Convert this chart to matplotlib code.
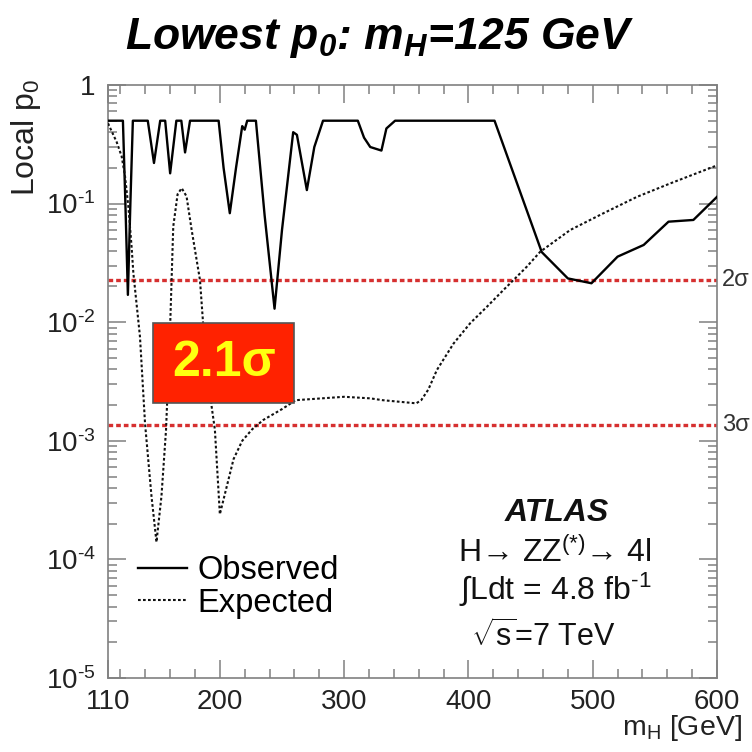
import matplotlib
matplotlib.use("Agg")
import matplotlib.pyplot as plt
from matplotlib.ticker import FixedLocator, MultipleLocator, LogLocator, NullFormatter, FixedFormatter
from matplotlib.patches import Rectangle
from matplotlib.lines import Line2D

plt.rcParams['font.family'] = ['Liberation Sans', 'DejaVu Sans']
plt.rcParams['mathtext.fontset'] = 'custom'
plt.rcParams['mathtext.rm'] = 'Liberation Sans'
plt.rcParams['mathtext.it'] = 'Liberation Sans:italic'
plt.rcParams['mathtext.bf'] = 'Liberation Sans:bold'
plt.rcParams['mathtext.bfit'] = 'Liberation Sans:bold:italic'
plt.rcParams['mathtext.default'] = 'regular'

# Observed local p0 vs Higgs mass
mh_obs = [110, 122, 124, 126, 128, 130, 142, 147, 152, 156, 160, 165, 169, 172, 176,
          199, 203, 208, 213, 218, 220, 222, 229, 236, 244, 250, 259, 262, 270, 276,
          283, 311, 316, 321, 330, 334, 341, 421, 459, 480, 499, 520, 541, 561, 581, 600]
p_obs = [0.5, 0.5, 0.1, 0.017, 0.1, 0.5, 0.5, 0.22, 0.5, 0.5, 0.18, 0.5, 0.5, 0.27, 0.5,
         0.5, 0.2, 0.083, 0.2, 0.45, 0.42, 0.5, 0.5, 0.08, 0.013, 0.06, 0.40, 0.38, 0.13, 0.3,
         0.5, 0.5, 0.36, 0.30, 0.28, 0.43, 0.5, 0.5, 0.039, 0.0234, 0.0213, 0.0357, 0.0448,
         0.0704, 0.0728, 0.114]

# Expected local p0 for a SM Higgs
mh_exp = [110, 117, 121, 123.7, 126.4, 129, 130.4, 135.7, 139.8, 145, 149, 153, 156.7,
          160, 162.5, 166, 169.3, 173.2, 177.3, 184, 186.7, 193.4, 196, 198.7, 200,
          205.5, 211, 218, 226, 235, 250, 261, 300, 321, 331, 358, 362, 367.7, 374.6,
          388, 401.4, 414.9, 428.2, 436.3, 447, 457.8, 481.9, 508.7, 535.6, 562.4, 600]
p_exp = [0.475, 0.33, 0.25, 0.17, 0.094, 0.043, 0.026, 0.0076, 0.0014, 3.4e-4, 1.4e-4,
         3.4e-4, 1.24e-3, 9.2e-3, 0.064, 0.12, 0.135, 0.115, 0.06, 0.0227, 0.0092,
         1.94e-3, 1.24e-3, 4.1e-4, 2.4e-4, 4.1e-4, 7.0e-4, 1.0e-3, 1.25e-3, 1.5e-3,
         1.85e-3, 2.2e-3, 2.35e-3, 2.28e-3, 2.2e-3, 2.07e-3, 2.2e-3, 2.7e-3, 3.95e-3,
         6.6e-3, 9.8e-3, 0.0135, 0.0187, 0.0227, 0.0294, 0.0393, 0.0599, 0.083, 0.114,
         0.148, 0.21]

sigma_levels = [0.02275, 0.00135]
sigma_labels = ["2σ", "3σ"]

x_major = [110, 200, 300, 400, 500, 600]
y_major = [1, 1e-1, 1e-2, 1e-3, 1e-4, 1e-5]
y_major_labels = ["1", "$10^{‐1}$", "$10^{‐2}$", "$10^{‐3}$", "$10^{‐4}$", "$10^{‐5}$"]

axis_grey = "#808080"
exp_style = (0, (1.3, 1.1))

fig = plt.figure(figsize=(7.52, 7.52), dpi=100)
ax = fig.add_axes([108 / 752, 1 - 678 / 752, 609 / 752, 593 / 752])

ax.set_yscale("log")
ax.set_xlim(110, 600)
ax.set_ylim(1e-5, 1)

for lvl in sigma_levels:
    ax.axhline(lvl, color="#d63030", lw=2.4, ls=(0, (1.4, 0.9)), zorder=1)

ax.plot(mh_obs, p_obs, color="black", lw=1.7, zorder=3)
ax.plot(mh_exp, p_exp, color="#111111", lw=1.5, ls=exp_style, zorder=3)

for lvl, lab in zip(sigma_levels, sigma_labels):
    ax.text(1.008, lvl, lab, transform=ax.get_yaxis_transform(), fontsize=17,
            color="#333333", ha="left", va="center", clip_on=False)

# axes style: ticks inside on all four sides
for s in ax.spines.values():
    s.set_color(axis_grey)
    s.set_linewidth(1.2)
ax.xaxis.set_major_locator(FixedLocator(x_major))
ax.xaxis.set_major_formatter(FixedFormatter([str(v) for v in x_major]))
ax.xaxis.set_minor_locator(MultipleLocator(20))
ax.yaxis.set_major_locator(FixedLocator(y_major))
ax.yaxis.set_major_formatter(FixedFormatter(y_major_labels))
ax.yaxis.set_minor_locator(LogLocator(base=10, subs=range(2, 10)))
ax.yaxis.set_minor_formatter(NullFormatter())
ax.tick_params(which="both", direction="in", top=True, right=True, color=axis_grey,
               width=1.1, labelcolor="#222222")
ax.tick_params(which="major", length=13)
ax.tick_params(which="minor", length=6.5)
ax.tick_params(axis="x", which="major", labelsize=20, pad=8)
ax.tick_params(axis="y", which="major", labelsize=20, pad=9)

# significance box
ax.add_patch(Rectangle((0.0744, 0.4642), 0.231, 0.1339, transform=ax.transAxes,
                       facecolor="#ff2200", edgecolor="#555555", lw=1.2, zorder=5))
ax.text(0.19, 0.531, "2.1σ", transform=ax.transAxes, fontsize=36, fontweight="bold",
        color="#ffff10", ha="center", va="center", zorder=6)

# legend
handles = [Line2D([], [], color="black", lw=1.7),
           Line2D([], [], color="#111111", lw=1.5, ls=exp_style)]
ax.legend(handles, ["Observed", "Expected"], loc="upper left",
          bbox_to_anchor=(0.05, 0.207), frameon=False, fontsize=23.5,
          handlelength=1.5, handletextpad=0.3, labelspacing=0.05,
          borderpad=0, borderaxespad=0)

# experiment label block
tx = (557 - 108) / 609
ax.text(tx, 1 - (513 - 85) / 593, "ATLAS", transform=ax.transAxes, fontsize=23,
        fontweight="bold", fontstyle="italic", ha="center", va="center", color="#111111")
ax.text(tx - 0.003, 1 - (553 - 85) / 593, "H→ ZZ$^{(*)}$→ 4l", transform=ax.transAxes,
        fontsize=23, ha="center", va="center", color="#111111")
ax.text(tx - 0.003, 1 - (590 - 85) / 593, "∫Ldt = 4.8 fb$^{‐1}$", transform=ax.transAxes,
        fontsize=23, ha="center", va="center", color="#111111")
ax.text(tx - 0.022, 1 - (636 - 85) / 593, r"$\sqrt{s}$=7 TeV", transform=ax.transAxes,
        fontsize=22, ha="center", va="center", color="#111111")

# axis titles and heading
fig.text(26 / 752, 1 - 79 / 752, "Local p$_0$", rotation=90, fontsize=23,
         ha="center", va="top", color="#222222")
fig.text(742 / 752, 1 - 735 / 752, "m$_H$ [GeV]", fontsize=20.5, ha="right",
         va="baseline", color="#222222")
fig.text(380 / 752, 1 - 38 / 752, r"Lowest p$_{\mathbfit{0}}$: m$_{\mathbfit{H}}$=125 GeV",
         fontsize=32, fontweight="bold", fontstyle="italic",
         ha="center", va="center", color="black")

fig.savefig("out.png", dpi=100, facecolor="white")
